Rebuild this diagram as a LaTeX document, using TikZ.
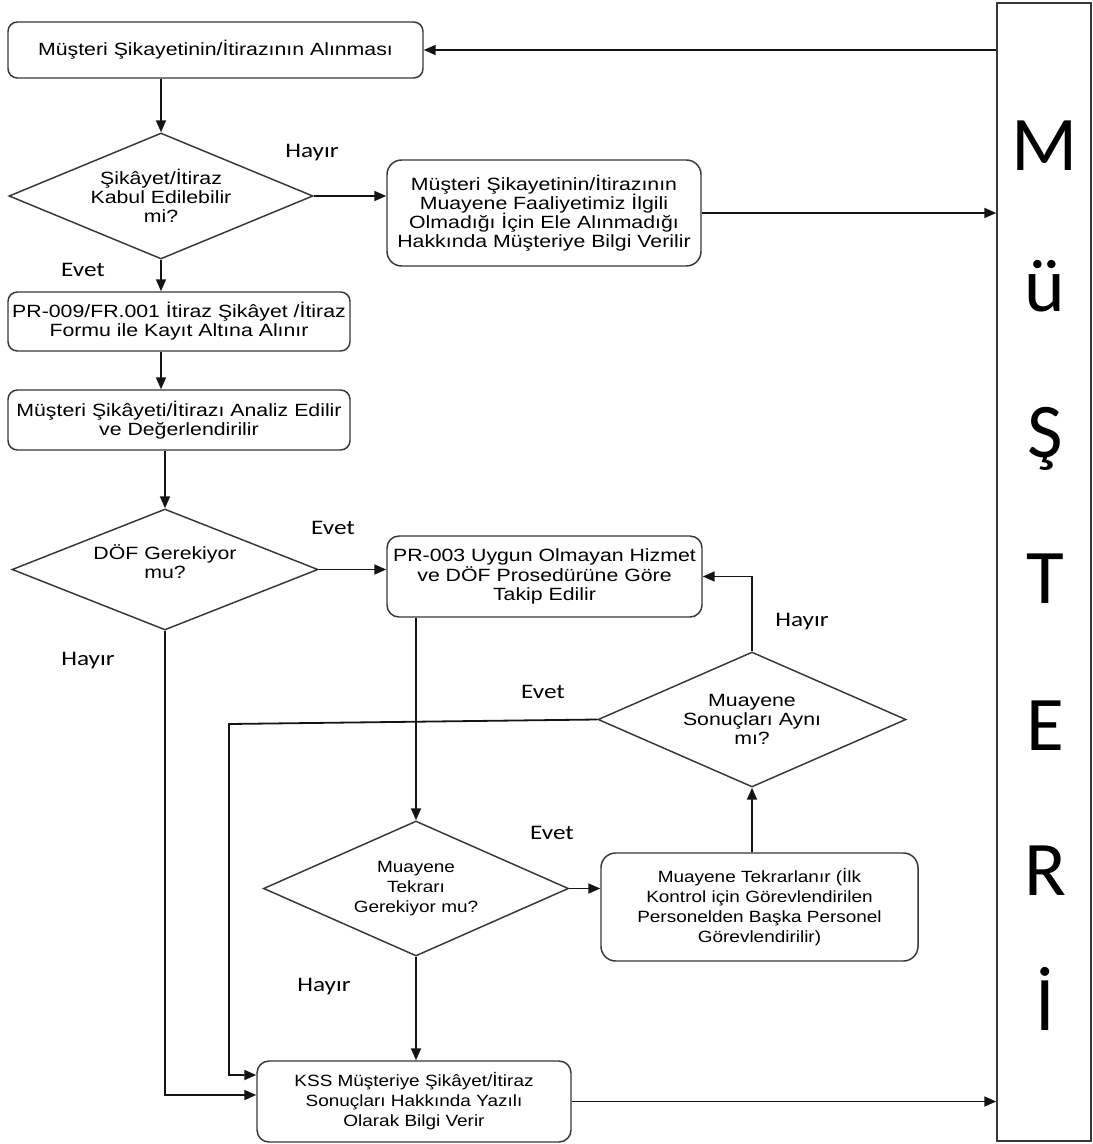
\documentclass[tikz,border=0pt]{standalone}
\usepackage{fontspec}
\usetikzlibrary{shapes.geometric,arrows.meta}
\newfontfamily\mainsans[FakeStretch=1.2]{Liberation Sans}
\newfontfamily\narrowsans[FakeStretch=1.165]{Liberation Sans}
\newfontfamily\lblfont[FakeStretch=1.22]{Carlito}
\newfontfamily\bigfont{Carlito}
\definecolor{boxline}{RGB}{55,55,55}
\definecolor{connline}{RGB}{20,20,20}
\tikzset{
  procbox/.style={draw=boxline, line width=1.1pt, rounded corners=7pt, align=center, inner sep=2pt,
    font={\mainsans\fontsize{13.3}{14.4}\selectfont}},
  narrowbox/.style={procbox, font={\narrowsans\fontsize{12.2}{15}\selectfont}},
  decis/.style={draw=boxline, line width=1.1pt, diamond, inner sep=0pt, align=center,
    font={\mainsans\fontsize{13.3}{14.4}\selectfont}},
  narrowdecis/.style={decis, font={\narrowsans\fontsize{12.2}{15}\selectfont}},
  lbl/.style={font={\lblfont\fontsize{15.5}{18}\selectfont}, inner sep=0pt},
  bigletter/.style={font={\bigfont\fontsize{58}{60}\selectfont}, anchor=base, inner sep=0pt},
  arr/.style={draw=connline, line width=1.35pt, -{Triangle[length=9pt,width=7.5pt]}},
}
\begin{document}
\begin{tikzpicture}[x=0.75pt,y=-0.75pt]
\useasboundingbox (0,0) rectangle (1092,1144);
% customer column
\node[draw=boxline, line width=1.1pt, minimum width=70.5pt, minimum height=853.5pt, inner sep=0pt] (mb) at (1044,572) {};
\node[bigletter] (l1) at (1045,171) {M};
\node[bigletter] (l2) at (1045,312) {ü};
\node[bigletter] (l3) at (1045,457) {Ş};
\node[bigletter] (l4) at (1045,603) {T};
\node[bigletter] (l5) at (1045,750) {E};
\node[bigletter] (l6) at (1045,895) {R};
\node[bigletter] (l7) at (1045,1030) {İ};
% process nodes
\node[procbox, minimum width=311.25pt, minimum height=42pt] (b1) at (215.5,50) {Müşteri Şikayetinin/İtirazının Alınması};
\node[decis, aspect=2.4, minimum width=228pt, minimum height=94.5pt] (d1) at (161,196) {Şikâyet/İtiraz\\Kabul Edilebilir\\mi?};
\node[procbox, rounded corners=11pt, minimum width=235.5pt, minimum height=79.5pt] (b2) at (544,213) {Müşteri Şikayetinin/İtirazının\\Muayene Faaliyetimiz İlgili\\Olmadığı İçin Ele Alınmadığı\\Hakkında Müşteriye Bilgi Verilir};
\node[procbox, minimum width=256.5pt, minimum height=44.25pt] (b3) at (179,321.5) {PR-009/FR.001 İtiraz Şikâyet /İtiraz\\Formu ile Kayıt Altına Alınır};
\node[procbox, minimum width=256.5pt, minimum height=45pt] (b4) at (179,420) {Müşteri Şikâyeti/İtirazı Analiz Edilir\\ve Değerlendirilir};
\node[decis, aspect=2.5, minimum width=229.5pt, minimum height=90.75pt] (d2) at (165,569.5) {DÖF Gerekiyor\\mu?\\[-2pt]};
\node[procbox, rounded corners=9pt, minimum width=236.25pt, minimum height=60.75pt] (b5) at (544.5,576.5) {PR-003 Uygun Olmayan Hizmet\\ve DÖF Prosedürüne Göre\\Takip Edilir};
\node[decis, aspect=2.28, minimum width=231pt, minimum height=101.25pt] (d3) at (752,719.5) {Muayene\\Sonuçları Aynı\\mı?};
\node[narrowdecis, aspect=2.26, minimum width=228.75pt, minimum height=101.25pt] (d4) at (416,888.5) {Muayene\\Tekrarı\\Gerekiyor mu?};
\node[narrowbox, rounded corners=11pt, minimum width=237.75pt, minimum height=81pt] (b6) at (759.5,907) {Muayene Tekrarlanır (İlk\\Kontrol için Görevlendirilen\\Personelden Başka Personel\\Görevlendirilir)};
\node[narrowbox, rounded corners=9pt, minimum width=235.5pt, minimum height=60.75pt] (k) at (414,1101.5) {KSS Müşteriye Şikâyet/İtiraz\\Sonuçları Hakkında Yazılı\\Olarak Bilgi Verir};
% labels
\node[lbl] (t1) at (312,153) {Hayır};
\node[lbl] (t2) at (83,270) {Evet};
\node[lbl] (t3) at (333,528) {Evet};
\node[lbl] (t4) at (88,661) {Hayır};
\node[lbl] (t5) at (802,622) {Hayır};
\node[lbl] (t6) at (543,692) {Evet};
\node[lbl] (t7) at (552,833) {Evet};
\node[lbl] (t8) at (324,987) {Hayır};
% connectors
\draw[arr] (mb.west |- b1.east) -- (b1.east);
\draw[arr] (b1.south -| d1.north) -- (d1.north);
\draw[arr] (d1.east) -- (d1.east -| b2.west);
\draw[arr] (b2.east) -- (b2.east -| mb.west);
\draw[arr] (d1.south) -- (d1.south |- b3.north);
\draw[arr] (b3.south -| d1.south) -- (b4.north -| d1.south);
\draw[arr] (b4.south -| d2.north) -- (d2.north);
\draw[arr] (d2.east) -- (d2.east -| b5.west);
\draw[arr] (d3.north) |- (b5.east);
\draw[arr] (b5.south -| d4.north) -- (d4.north);
\draw[arr] (d4.east) -- (d4.east -| b6.west);
\draw[arr] (d3.south |- b6.north) -- (d3.south);
\draw[arr] (d4.south) -- (d4.south |- k.north);
\draw[arr] (k.east) -- (k.east -| mb.west);
\coordinate (ev1) at (229,724);
\coordinate (ev2) at (229,1075);
\draw[arr] (d3.west) -- (ev1) -- (ev2) -- (ev2 -| k.west);
\coordinate (hy1) at (165,1095);
\draw[arr] (d2.south) -- (hy1) -- (hy1 -| k.west);
\end{tikzpicture}
\end{document}
